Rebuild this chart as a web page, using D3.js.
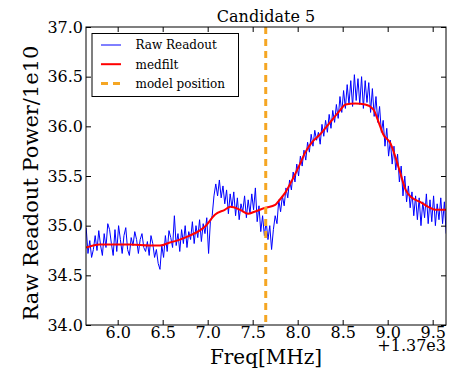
<!DOCTYPE html>
<html>
<head>
<meta charset="utf-8">
<script src="https://cdn.jsdelivr.net/npm/d3@7"></script>
<style>
body { margin: 0; background: #fff; }
</style>
</head>
<body>
<div id="canvas"></div>
<script>
// ----------------------------------------------------------
// DATA -----------------------------------------------------
// ----------------------------------------------------------
// raw readout, x from 5.65 in steps of 0.02 (offset +1.37e3 MHz)
var raw_start = 5.65;
var raw_step = 0.02;
var raw_values = [
34.98, 34.72, 34.85, 34.68, 34.76, 34.90, 34.75, 34.95, 34.80, 34.70,
34.92, 34.78, 35.02, 34.96, 34.82, 34.70, 34.96, 34.74, 35.00, 34.86,
34.72, 34.90, 34.98, 34.76, 34.70, 34.88, 34.80, 34.94, 34.86, 34.72,
34.86, 34.92, 34.78, 34.74, 34.84, 34.70, 34.90, 34.82, 34.68, 34.76,
34.62, 34.56, 34.80, 34.68, 34.90, 34.74, 34.95, 34.88, 34.78, 35.10,
34.80, 34.92, 34.74, 34.96, 34.82, 35.00, 34.78, 34.94, 34.86, 35.04,
34.82, 35.00, 34.88, 35.06, 34.84, 35.02, 34.92, 35.08, 34.72, 35.04,
35.10, 35.30, 35.42, 35.30, 35.46, 35.28, 35.40, 35.22, 35.36, 35.12,
35.32, 35.18, 35.34, 35.10, 35.28, 35.06, 35.22, 35.14, 35.30, 35.08,
35.26, 35.12, 35.32, 35.16, 35.38, 35.04, 35.20, 34.94, 35.10, 34.90,
35.04, 34.86, 35.00, 34.76, 34.96, 35.10, 35.02, 35.26, 35.14, 35.30,
35.20, 35.38, 35.28, 35.46, 35.36, 35.54, 35.44, 35.62, 35.50, 35.70,
35.60, 35.76, 35.66, 35.84, 35.74, 35.92, 35.80, 35.96, 35.86, 35.94,
35.82, 36.02, 35.90, 36.06, 35.94, 36.12, 35.98, 36.16, 36.04, 36.22,
36.08, 36.30, 36.14, 36.36, 36.18, 36.42, 36.22, 36.46, 36.20, 36.52,
36.26, 36.48, 36.22, 36.50, 36.18, 36.46, 36.24, 36.44, 36.14, 36.38,
36.10, 36.30, 36.04, 36.20, 35.94, 36.06, 35.80, 35.98, 35.70, 35.86,
35.62, 35.80, 35.56, 35.72, 35.44, 35.60, 35.30, 35.50, 35.24, 35.40,
35.18, 35.34, 35.10, 35.30, 35.06, 35.28, 35.00, 35.24, 35.08, 35.32,
35.02, 35.26, 35.04, 35.30, 35.00, 35.22, 35.06, 35.28, 35.02, 35.24,
34.92
];

// median filtered curve
var med_x = [5.65, 5.80, 6.14, 6.36, 6.47, 6.58, 6.69, 6.80, 6.91, 6.98,
7.08, 7.19, 7.25, 7.36, 7.45, 7.52, 7.64, 7.75, 7.79, 7.86,
7.95, 8.03, 8.08, 8.16, 8.25, 8.36, 8.47, 8.53, 8.64, 8.75,
8.84, 8.90, 8.95, 9.03, 9.09, 9.14, 9.20, 9.27, 9.36, 9.45,
9.53, 9.65];
var med_y = [34.78, 34.81, 34.81, 34.80, 34.80, 34.83, 34.86, 34.90, 34.95, 35.00,
35.11, 35.16, 35.19, 35.16, 35.12, 35.14, 35.18, 35.21, 35.25, 35.33,
35.48, 35.63, 35.73, 35.84, 35.92, 36.04, 36.16, 36.22, 36.23, 36.22,
36.17, 36.04, 35.92, 35.83, 35.68, 35.53, 35.36, 35.28, 35.24, 35.19,
35.16, 35.16];

var model_position = 7.645;

var x_ticks = [6.0, 6.5, 7.0, 7.5, 8.0, 8.5, 9.0, 9.5];
var y_ticks = [34.0, 34.5, 35.0, 35.5, 36.0, 36.5, 37.0];
var x_domain = [5.648, 9.648];
var y_domain = [34.0, 37.0];
var legend_labels = ["Raw Readout", "medfilt", "model position"];

// ----------------------------------------------------------
// STRUCTURE ------------------------------------------------
// ----------------------------------------------------------
var W = 453, H = 376;
var p_left = 86, p_right = 446, p_top = 27, p_bottom = 325;
var font = "'DejaVu Serif', serif";

var svg = d3.select("#canvas").append("svg")
.attr("width", W)
.attr("height", H)
.style("font-family", font);

var xScale = d3.scaleLinear().domain(x_domain).range([p_left, p_right]);
var yScale = d3.scaleLinear().domain(y_domain).range([p_bottom, p_top]);

var raw_data = raw_values.map((v, i) => ({ x: raw_start + i * raw_step, y: v }));
var med_data = med_x.map((v, i) => ({ x: v, y: med_y[i] }));

var line = d3.line().x(d => xScale(d.x)).y(d => yScale(d.y));

// clip
svg.append("clipPath").attr("id", "clip")
.append("rect")
.attr("x", p_left).attr("y", p_top)
.attr("width", p_right - p_left).attr("height", p_bottom - p_top);

var plot = svg.append("g").attr("clip-path", "url(#clip)");

plot.append("path")
.datum(raw_data)
.attr("d", line)
.attr("fill", "none")
.attr("stroke", "#0000ff")
.attr("stroke-width", 1);

plot.append("path")
.datum(med_data)
.attr("d", d3.line().x(d => xScale(d.x)).y(d => yScale(d.y)).curve(d3.curveMonotoneX))
.attr("fill", "none")
.attr("stroke", "#ff0000")
.attr("stroke-width", 2);

plot.append("line")
.attr("x1", xScale(model_position)).attr("x2", xScale(model_position))
.attr("y1", p_top).attr("y2", p_bottom)
.attr("stroke", "#f5a623")
.attr("stroke-width", 3)
.attr("stroke-dasharray", "7,5");

// ----------------------------------------------------------
// AXES -----------------------------------------------------
// ----------------------------------------------------------
var tickLen = 5;
var xb = svg.append("g").attr("transform", `translate(0,${p_bottom})`)
.call(d3.axisBottom(xScale).tickValues(x_ticks).tickSizeInner(-tickLen).tickSizeOuter(0).tickPadding(2).tickFormat(d3.format(".1f")));
var xt = svg.append("g").attr("transform", `translate(0,${p_top})`)
.call(d3.axisTop(xScale).tickValues(x_ticks).tickSizeInner(-tickLen).tickSizeOuter(0).tickFormat(""));
var yl = svg.append("g").attr("transform", `translate(${p_left},0)`)
.call(d3.axisLeft(yScale).tickValues(y_ticks).tickSizeInner(-tickLen).tickSizeOuter(0).tickPadding(3).tickFormat(d3.format(".1f")));
var yr = svg.append("g").attr("transform", `translate(${p_right},0)`)
.call(d3.axisRight(yScale).tickValues(y_ticks).tickSizeInner(-tickLen).tickSizeOuter(0).tickFormat(""));

[xb, xt, yl, yr].forEach(g => {
g.attr("font-family", font).attr("font-size", 16);
g.select(".domain").remove();
g.selectAll(".tick line").attr("stroke", "#000").attr("stroke-width", 1);
g.selectAll("text").attr("fill", "#000");
});

svg.append("rect")
.attr("x", p_left).attr("y", p_top)
.attr("width", p_right - p_left).attr("height", p_bottom - p_top)
.attr("fill", "none").attr("stroke", "#000").attr("stroke-width", 1);

// ----------------------------------------------------------
// TEXT -----------------------------------------------------
// ----------------------------------------------------------
svg.append("text")
.attr("x", (p_left + p_right) / 2).attr("y", 22)
.attr("text-anchor", "middle")
.attr("font-family", font)
.attr("font-size", 16)
.text("Candidate 5");

svg.append("text")
.attr("x", (p_left + p_right) / 2).attr("y", 364)
.attr("text-anchor", "middle")
.attr("font-family", font)
.attr("font-size", 20)
.text("Freq[MHz]");

svg.append("text")
.attr("x", p_right).attr("y", 351)
.attr("text-anchor", "end")
.attr("font-family", font)
.attr("font-size", 16)
.text("+1.37e3");

svg.append("text")
.attr("transform", `translate(37.5,183) rotate(-90)`)
.attr("text-anchor", "middle")
.attr("font-family", font)
.attr("font-size", 21)
.text("Raw Readout Power/1e10");

// legend
var lg = svg.append("g");
lg.append("rect")
.attr("x", 92).attr("y", 33.5).attr("width", 146.5).attr("height", 63)
.attr("fill", "#fff").attr("stroke", "#000").attr("stroke-width", 1);

var legend_style = [
{ color: "#0000ff", width: 1, dash: null },
{ color: "#ff0000", width: 2, dash: null },
{ color: "#f5a623", width: 3, dash: "7,5" }
];
legend_labels.forEach((lab, i) => {
var yy = 45 + i * 19.2;
lg.append("line")
.attr("x1", 101).attr("x2", 121).attr("y1", yy).attr("y2", yy)
.attr("stroke", legend_style[i].color)
.attr("stroke-width", legend_style[i].width)
.attr("stroke-dasharray", legend_style[i].dash);
lg.append("text")
.attr("x", 135.5).attr("y", yy + 4.3)
.attr("font-family", font)
.attr("font-size", 12)
.text(lab);
});
</script>
</body>
</html>
